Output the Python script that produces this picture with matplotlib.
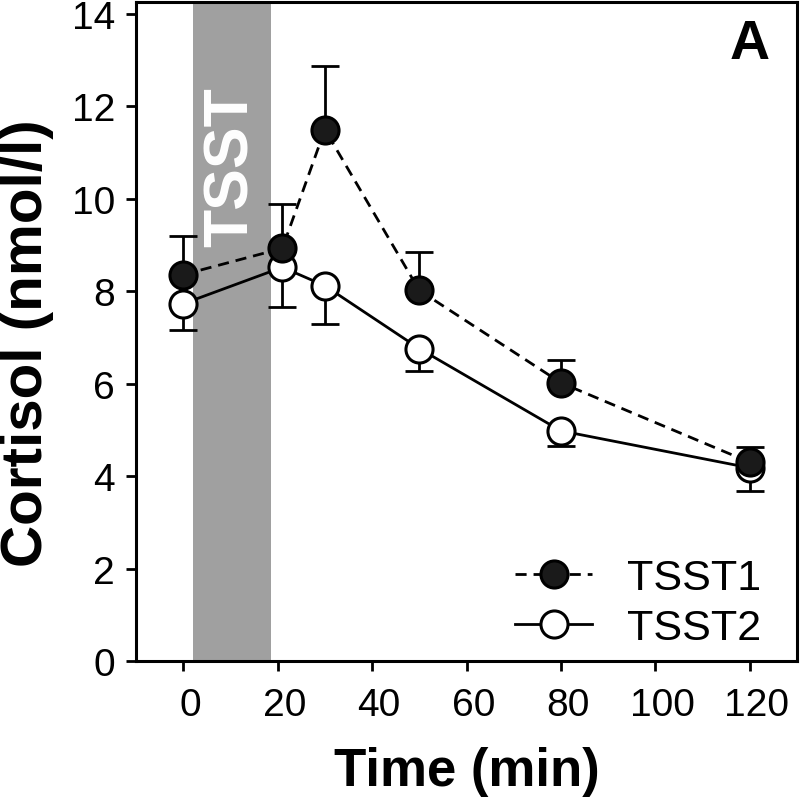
import matplotlib
matplotlib.use("Agg")
import matplotlib.pyplot as plt
from matplotlib.transforms import ScaledTranslation

plt.rcParams['font.family'] = ['Liberation Sans', 'DejaVu Sans']

time1 = [0, 21, 30, 50, 80, 120]
tsst1 = [8.36, 8.93, 11.5, 8.02, 6.02, 4.3]
tsst1_err = [0.83, 0.95, 1.37, 0.84, 0.5, 0.33]

time2 = [0, 21, 30, 50, 80, 120]
tsst2 = [7.73, 8.52, 8.12, 6.76, 4.98, 4.18]
tsst2_err = [0.56, 0.85, 0.82, 0.48, 0.32, 0.5]

stress_start, stress_end = 2, 18.5
xticks = [0, 20, 40, 60, 80, 100, 120]
yticks = [0, 2, 4, 6, 8, 10, 12, 14]

fig = plt.figure(figsize=(8, 8.03), dpi=100)
ax = fig.add_axes([136/800, 1-662/803, (797-136)/800, (662-3)/803])

ax.axvspan(stress_start, stress_end, color='#a0a0a0', lw=0, zorder=0)
ax.text((stress_start+stress_end)/2, 10.7, 'TSST', rotation=90, color='white',
        fontsize=45, fontweight='bold', ha='center', va='center', zorder=1)

lw = 2.0
ax.errorbar(time2, tsst2, yerr=[tsst2_err, [0]*len(tsst2_err)], fmt='none',
            ecolor='black', elinewidth=lw, capsize=10, capthick=lw, zorder=2)
l2, = ax.plot(time2, tsst2, '-', color='black', lw=lw, marker='o', ms=19.5,
              mfc='white', mec='black', mew=2.2, zorder=3, label='TSST2')
ax.errorbar(time1, tsst1, yerr=[[0]*len(tsst1_err), tsst1_err], fmt='none',
            ecolor='black', elinewidth=lw, capsize=10, capthick=lw, zorder=4)
l1, = ax.plot(time1, tsst1, '--', color='black', lw=lw, dashes=(4, 2.5), marker='o', ms=19.5,
              mfc='#1a1a1a', mec='black', mew=2.2, zorder=5, label='TSST1')

ax.set_xlim(-10, 130)
ax.set_ylim(0, 14.26)
ax.set_xticks(xticks)
ax.set_yticks(yticks)
ax.tick_params(direction='out', length=7, width=2, labelsize=28)
ax.tick_params(axis='x', pad=12)
ax.tick_params(axis='y', pad=8)
for lab in ax.get_xticklabels():
    lab.set_transform(lab.get_transform() + ScaledTranslation(5/72, 0, fig.dpi_scale_trans))
for s in ax.spines.values():
    s.set_linewidth(2.2)

ax.set_xlabel('Time (min)', fontsize=38, fontweight='bold', labelpad=16)
ax.set_ylabel('Cortisol (nmol/l)', fontsize=42, fontweight='bold')
ax.yaxis.set_label_coords(-0.124, 0.484)

ax.text(0.929, 0.936, 'A', transform=ax.transAxes, fontsize=40, fontweight='bold',
        ha='center', va='center')

leg = ax.legend(handles=[l1, l2], loc='center', bbox_to_anchor=(638/800, 1-604/803),
                bbox_transform=fig.transFigure, frameon=False, fontsize=31,
                handlelength=1.8, handletextpad=0.8, labelspacing=0.25, borderpad=0)

fig.savefig('out.png', dpi=100)
